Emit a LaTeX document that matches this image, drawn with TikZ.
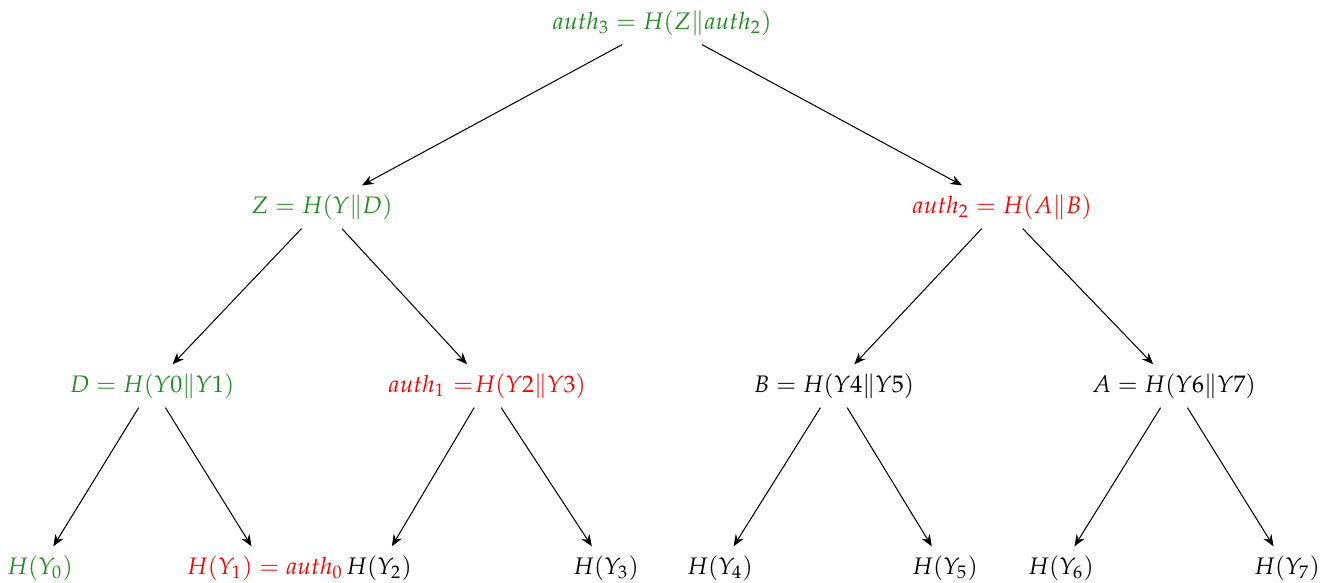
\documentclass[tikz,border=0pt]{standalone}
\usepackage{mathpazo}
\usetikzlibrary{arrows.meta}
\definecolor{tgreen}{RGB}{34,139,34}
\definecolor{tred}{RGB}{255,0,0}
\tikzset{
  tn/.style={inner sep=3.33pt, font=\fontsize{9.2}{11}\selectfont},
  gn/.style={tn, text=tgreen},
  rn/.style={tn, text=tred},
  bn/.style={tn, text=black},
  edge/.style={-{Stealth[length=4.5pt,width=3.6pt]}, line width=0.4pt}
}
\begin{document}
\begin{tikzpicture}[x=0.3846pt, y=-0.3846pt]
\useasboundingbox (0,0) rectangle (1331,583);
\node[gn] (r) at (662,23) {$auth_3 = H(Z\|auth_2)$};
\node[gn] (z) at (322,207) {$Z = H(Y\|D)$};
\node[rn] (a2) at (1002,207) {$auth_2 = H(A\|B)$};
\node[gn] (d) at (152,386) {$D = H(Y0\|Y1)$};
\node[rn] (a1) at (487,386) {$auth_1 \mskip 6mu{=}\mskip 1mu H(Y2\|Y3)$};
\node[bn] (b) at (834,386) {$B = H(Y4\|Y5)$};
\node[bn] (a) at (1174,386) {$A = H(Y6\|Y7)$};
\node[gn] (l0) at (40,568) {$H(Y_0)$};
\node[rn] (l1) at (265,568) {$H(Y_1) = auth_0$};
\node[bn] (l2) at (379,568) {$H(Y_2)$};
\node[bn] (l3) at (606,568) {$H(Y_3)$};
\node[bn] (l4) at (720,568) {$H(Y_4)$};
\node[bn] (l5) at (945,568) {$H(Y_5)$};
\node[bn] (l6) at (1061,568) {$H(Y_6)$};
\node[bn] (l7) at (1287,568) {$H(Y_7)$};
\draw[edge] (r) -- (z);
\draw[edge] (r) -- (a2);
\draw[edge] (z) -- (d);
\draw[edge] (z) -- (a1);
\draw[edge] (a2) -- (b);
\draw[edge] (a2) -- (a);
\draw[edge] (d) -- (l0);
\draw[edge] (d) -- (l1);
\draw[edge] (a1) -- (l2);
\draw[edge] (a1) -- (l3);
\draw[edge] (b) -- (l4);
\draw[edge] (b) -- (l5);
\draw[edge] (a) -- (l6);
\draw[edge] (a) -- (l7);
\end{tikzpicture}
\end{document}
